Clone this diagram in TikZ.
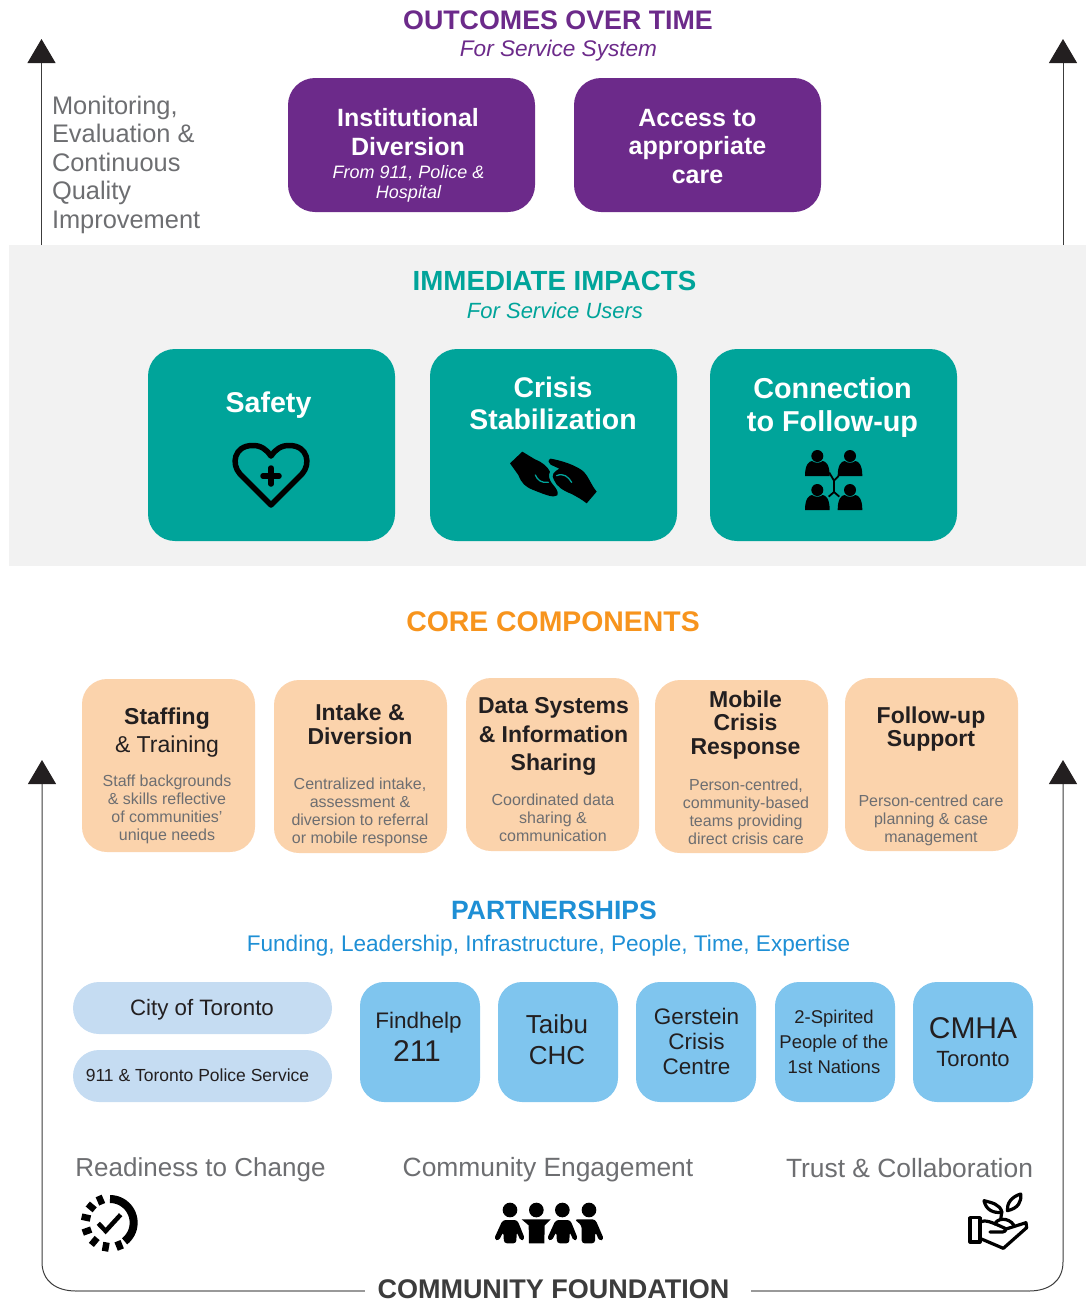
\documentclass[tikz,border=0pt]{standalone}
\usepackage{fontspec}
\setmainfont{Liberation Sans}
\usetikzlibrary{arrows.meta}
\definecolor{purp}{HTML}{6C2A8A}
\definecolor{teal1}{HTML}{00A49A}
\definecolor{orng}{HTML}{F7941D}
\definecolor{peach}{HTML}{FBD3AC}
\definecolor{sky}{HTML}{7FC5EE}
\definecolor{pale}{HTML}{C5DCF2}
\definecolor{hblue}{HTML}{1E8FD5}
\definecolor{gtx}{HTML}{6D6E71}
\definecolor{bgg}{HTML}{F2F2F2}
\definecolor{dk}{HTML}{231F20}
\definecolor{ln}{HTML}{3C3C3C}
\newcommand{\fs}[2]{\fontsize{#1}{#2}\selectfont}
\tikzset{
  txt/.style={inner sep=0pt,outer sep=0pt,align=center,anchor=center},
  cardbox/.style={rounded corners=#1,draw=none,inner sep=0pt,outer sep=0pt,anchor=north west},
  upline/.style={draw=ln,line width=1pt,-{Triangle[width=28pt,length=24pt,color=dk]}}
}
\newcommand{\card}[7]{% name, colour, radius, x0,y0,x1,y1
  \pgfmathsetmacro{\cw}{#6-#4}\pgfmathsetmacro{\ch}{#7-#5}
  \node[cardbox=#3,fill=#2,minimum width=\cw pt,minimum height=\ch pt] (#1) at (#4,#5) {};}
\begin{document}
\begin{tikzpicture}[x=1pt,y=-1pt]
\useasboundingbox (0,0) rectangle (1086,1302);
\card{bg}{bgg}{0}{9}{245}{1086}{566}

% axis arrows
\coordinate (tlb) at (41.5,245); \coordinate (tlt) at (41.5,39);
\coordinate (trb) at (1063,245); \coordinate (trt) at (1063,39);
\draw[upline] (tlb) -- (tlt);
\draw[upline] (trb) -- (trt);

% outcomes
\node[txt,text=purp,font=\bfseries\fs{26.8}{30}] (t1) at (558,20) {OUTCOMES OVER TIME};
\node[txt,text=purp,font=\itshape\fs{22.6}{26}] (t1s) at (558.5,50.5) {For Service System};
\node[txt,text=gtx,font=\fs{25.4}{28.5},align=left,anchor=north west] (mon) at (52,96) {Monitoring,\\Evaluation \&\\Continuous\\Quality\\Improvement};
\card{p1}{purp}{27}{288}{78}{535}{212}
\card{p2}{purp}{27}{574}{78}{821}{212}
\node[txt,text=white,font=\bfseries\fs{25}{28.5}] (p1t) at (408,132) {Institutional\\Diversion};
\node[txt,text=white,font=\itshape\fs{18}{20.5}] (p1s) at (408.5,184) {From 911, Police \&\\Hospital};
\node[txt,text=white,font=\bfseries\fs{25}{28.5}] (p2t) at (697.5,146.5) {Access to\\appropriate\\care};

% impacts
\node[txt,text=teal1,font=\bfseries\fs{27.7}{30}] (t2) at (554.5,280.5) {IMMEDIATE IMPACTS};
\node[txt,text=teal1,font=\itshape\fs{22}{26}] (t2s) at (555,311) {For Service Users};
\card{i1}{teal1}{27}{148}{349}{395}{541}
\card{i2}{teal1}{27}{430}{349}{677}{541}
\card{i3}{teal1}{27}{710}{349}{957}{541}
\node[txt,text=white,font=\bfseries\fs{28.6}{32}] (i1t) at (268.5,405) {Safety};
\node[txt,text=white,font=\bfseries\fs{28.4}{32}] (i2t) at (553,403) {Crisis\\Stabilization};
\node[txt,text=white,font=\bfseries\fs{28.8}{33}] (i3t) at (832.5,408) {Connection\\to Follow-up};

% heart
\draw[black,line width=5.5pt,line join=round]
  (271,505) -- (240,474) .. controls (231,464) and (234,446) .. (252,445.5) .. controls (261,445) and (267,450) .. (271,456)
  .. controls (275,450) and (281,445) .. (290,445.5) .. controls (308,446) and (311,464) .. (302,474) -- cycle;
\draw[black,line width=5.5pt,line cap=round] (271,468) -- (271,484) (263,476) -- (279,476);

% hands
\begin{scope}[shift={(200,420)},scale=1/3]
  \fill[black] (930,130) -- (967,95) -- (1005,118) .. controls (1030,128) and (1042,140) .. (1050,155) .. controls (1045,165) and (1045,178) .. (1060,195) .. controls (1070,207) and (1076,216) .. (1072,226) .. controls (1060,234) and (1040,226) .. (1000,210) .. controls (975,200) and (965,190) .. (955,165) -- cycle;
  \fill[black] (1160,250) -- (1190,215) .. controls (1170,190) and (1165,165) .. (1145,150) .. controls (1115,130) and (1075,120) .. (1052,116) .. controls (1042,120) and (1045,130) .. (1052,134) -- (1078,146) .. controls (1062,155) and (1052,165) .. (1062,180) .. controls (1070,200) and (1090,212) .. (1115,222) .. controls (1130,230) and (1145,238) .. (1160,250) -- cycle;
  \draw[teal1,line width=1.3pt,line cap=round] (1006,165) .. controls (1012,180) and (1025,190) .. (1045,187);
  \draw[teal1,line width=1.3pt,line cap=round] (1070,167) .. controls (1090,158) and (1105,170) .. (1115,187);
\end{scope}

% people network
\begin{scope}[shift={(780,430)},scale=1/3]
  \foreach \px/\py in {112/78,210/78,112/180,210/180}{
    \fill[black] (\px,\py) circle (18);
    \fill[black] (\px-37,\py+60) .. controls (\px-37,\py+25) and (\px-25,\py+16) .. (\px-16,\py+15) .. controls (\px-8,\py+22) and (\px+8,\py+22) .. (\px+16,\py+15) .. controls (\px+25,\py+16) and (\px+37,\py+25) .. (\px+37,\py+60) -- cycle;
  }
  \draw[black,line width=1.8pt] (148,128) -- (162,152) -- (176,138) (162,152) -- (162,186) -- (146,200) (162,186) -- (178,200);
\end{scope}

% core
\node[txt,text=orng,font=\bfseries\fs{28.4}{30}] (t3) at (553,622) {CORE COMPONENTS};
\card{c1}{peach}{25}{82}{679}{255}{852}
\card{c2}{peach}{25}{274}{680}{447}{853}
\card{c3}{peach}{25}{466}{678}{639}{851}
\card{c4}{peach}{25}{655}{680}{828}{853}
\card{c5}{peach}{25}{845}{678}{1018}{851}
\node[txt,text=dk,font=\bfseries\fs{23}{27}] (c1a) at (167,719) {Staffing};
\node[txt,text=dk,font=\fs{23}{27}] (c1b) at (167,747) {\& Training};
\node[txt,text=gtx,font=\fs{16}{18}] (c1d) at (167,809.5) {Staff backgrounds\\\& skills reflective\\of communities'\\unique needs};
\node[txt,text=dk,font=\bfseries\fs{23}{24.5}] (c2t) at (360,724.5) {Intake \&\\Diversion};
\node[txt,text=gtx,font=\fs{16}{18}] (c2d) at (360,812.5) {Centralized intake,\\assessment \&\\diversion to referral\\or mobile response};
\node[txt,text=dk,font=\bfseries\fs{23}{28.5}] (c3t) at (553.5,736.5) {Data Systems\\\& Information\\Sharing};
\node[txt,text=gtx,font=\fs{16}{18}] (c3d) at (553,817.5) {Coordinated data\\sharing \&\\communication};
\node[txt,text=dk,font=\bfseries\fs{23}{23.5}] (c4t) at (745.5,725) {Mobile\\Crisis\\Response};
\node[txt,text=gtx,font=\fs{16}{18}] (c4d) at (746,812) {Person-centred,\\community-based\\teams providing\\direct crisis care};
\node[txt,text=dk,font=\bfseries\fs{23}{23.5}] (c5t) at (931,729) {Follow-up\\Support};
\node[txt,text=gtx,font=\fs{16}{18}] (c5d) at (931,820) {Person-centred care\\planning \& case\\management};

% bottom axis
\node[txt,text=ln,font=\bfseries\fs{27}{30}] (cf) at (553.5,1289.5) {COMMUNITY FOUNDATION};
\coordinate (bl) at (42,760); \coordinate (blh) at (76,1291); \coordinate (blt) at (365,1291);
\coordinate (br) at (1063,760); \coordinate (brh) at (1029,1291); \coordinate (brt) at (751,1291);
\draw[draw=gray!80,line width=1.6pt] (blh) -- (blt);
\draw[draw=gray!80,line width=1.6pt] (brt) -- (brh);
\draw[upline] (blh) .. controls (56,1291) and (42,1281) .. (42,1262) -- (bl);
\draw[upline] (brh) .. controls (1049,1291) and (1063,1281) .. (1063,1262) -- (br);

% partnerships
\node[txt,text=hblue,font=\bfseries\fs{26.5}{30}] (t4) at (554,910.5) {PARTNERSHIPS};
\node[txt,text=hblue,font=\fs{22.6}{26}] (t4s) at (548.5,945.5) {Funding, Leadership, Infrastructure, People, Time, Expertise};
\card{q1}{pale}{26}{73}{982}{332}{1034}
\card{q2}{pale}{26}{73}{1050}{332}{1102}
\node[txt,text=dk,font=\fs{22.3}{26}] (q1t) at (202,1010) {City of Toronto};
\node[txt,text=dk,font=\fs{17.5}{24}] (q2t) at (197.5,1075) {911 \& Toronto Police Service};
\card{b1}{sky}{24}{360}{982}{480}{1102}
\card{b2}{sky}{24}{498}{982}{618}{1102}
\card{b3}{sky}{24}{636}{982}{756}{1102}
\card{b4}{sky}{24}{775}{982}{895}{1102}
\card{b5}{sky}{24}{913}{982}{1033}{1102}
\node[txt,text=dk,font=\fs{22.5}{26}] (b1a) at (418.5,1023) {Findhelp};
\node[txt,text=dk,font=\fs{30}{32}] (b1b) at (417,1051) {211};
\node[txt,text=dk,font=\fs{26}{31}] (b2t) at (557,1040) {Taibu\\CHC};
\node[txt,text=dk,font=\fs{22.5}{25}] (b3t) at (696.5,1041) {Gerstein\\Crisis\\Centre};
\node[txt,text=dk,font=\fs{18.5}{25}] (b4t) at (834,1041.5) {2-Spirited\\People of the\\1st Nations};
\node[txt,text=dk,font=\fs{30}{32}] (b5a) at (973,1028) {CMHA};
\node[txt,text=dk,font=\fs{22}{26}] (b5b) at (973,1059) {Toronto};

% foundation labels
\node[txt,text=gtx,font=\fs{26}{30}] (f1) at (200.5,1170) {Readiness to Change};
\node[txt,text=gtx,font=\fs{26.4}{30}] (f2) at (548,1170) {Community Engagement};
\node[txt,text=gtx,font=\fs{26.4}{30}] (f3) at (909.5,1168) {Trust \& Collaboration};

% readiness icon
\begin{scope}[shift={(60,1180)},scale=1/3]
  \draw[black,line width=8pt] plot[smooth,domain=-90:52,samples=24] ({150+71*cos(\x)},{128+71*sin(\x)});
  \foreach \a in {68,100,130,160,192,220,247}{
    \draw[black,line width=6.5pt] ({150+60*cos(\a)},{128+60*sin(\a)}) -- ({150+87*cos(\a)},{128+87*sin(\a)});
  }
  \draw[black,line width=4.5pt] (115,130) -- (137,153) -- (182,104);
\end{scope}

% community icon
\begin{scope}[shift={(480,1190)},scale=1/3]
  \foreach \hx in {90,169,247,327}{\fill[black] (\hx,60) circle (22);}
  \foreach \dx in {0,159}{
    \fill[black,rounded corners=3pt] ({42+\dx},147) -- ({68+\dx},90) -- ({112+\dx},90) -- ({135+\dx},147) -- ({122+\dx},153) -- ({110+\dx},125) -- ({109+\dx},160) -- ({72+\dx},160) -- ({70+\dx},125) -- ({56+\dx},153) -- cycle;
  }
  \fill[black] (125,88) -- (212,88) -- (194,106) -- (193,160) -- (147,160) -- (146,106) -- cycle;
  \fill[black,rounded corners=3pt] (283,88) -- (346,88) -- (372,148) -- (358,153) -- (346,125) -- (345,160) -- (305,160) -- (305,106) -- cycle;
\end{scope}

% trust icon
\begin{scope}[shift={(950,1180)},scale=1/3]
  \draw[black,line width=3.2pt,line join=round,line cap=round,fill=white] (60,113) rectangle (90,186);
  \draw[black,line width=3.2pt,line join=round,line cap=round]
    (90,126) .. controls (105,118) and (125,126) .. (165,145) .. controls (172,152) and (160,158) .. (150,156) -- (120,156)
    (165,148) -- (228,128) -- (230,143) -- (160,205) -- (92,176);
  \draw[black,line width=3.2pt,line cap=round] (135,132) .. controls (140,115) and (175,110) .. (192,136);
  \draw[black,line width=3.2pt,line join=round,fill=white] (102,62) .. controls (125,68) and (150,72) .. (156,97) .. controls (130,100) and (108,90) .. (102,62) -- cycle;
  \draw[black,line width=3.2pt,line join=round,fill=white] (212,42) .. controls (215,65) and (205,85) .. (172,92) .. controls (170,70) and (185,50) .. (212,42) -- cycle;
  \draw[black,line width=3.2pt] (155,97) -- (152,120);
\end{scope}
\end{tikzpicture}
\end{document}
